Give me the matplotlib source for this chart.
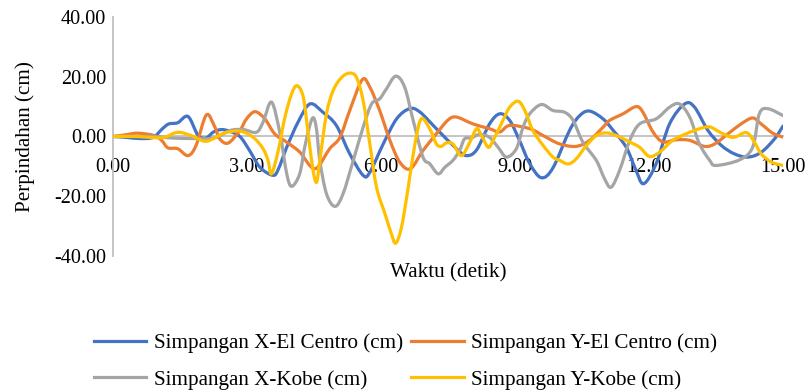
import matplotlib
matplotlib.use('Agg')
import numpy as np
import matplotlib.pyplot as plt
from matplotlib.path import Path
from matplotlib.patches import PathPatch
from matplotlib.ticker import FormatStrFormatter

# Simpangan X - El Centro
t_xec = [0, 0.3, 0.6, 0.9, 1.1, 1.25, 1.45, 1.68, 1.9, 2.08, 2.25, 2.42, 2.6, 2.84,
         3.05, 3.29, 3.58, 3.7, 3.89, 4.15, 4.41, 4.7, 5.0, 5.3, 5.6, 5.75, 6.05,
         6.35, 6.64, 6.87, 7.24, 7.69, 7.91, 8.14, 8.43, 8.66, 8.88, 9.1, 9.33,
         9.59, 9.85, 10.22, 10.45, 10.67, 10.97, 11.2, 11.49, 11.7, 11.88, 12.16,
         12.46, 12.8, 13.02, 13.32, 13.62, 13.91, 14.21, 14.51, 14.81, 15.0]
v_xec = [0, -0.3, -0.7, -0.3, 2.5, 4.2, 4.6, 6.7, 0.5, -0.5, 1.5, 2.3, 1.8, 0,
         -4.5, -10.3, -13, -11, -3.6, 5, 10.9, 8.1, 3.7, -5.8, -13, -12, -2.5,
         5.9, 9.3, 8.2, 2.6, -4.1, -6.4, -4.5, 4.2, 7.6, 5.4, -1.3, -9.1,
         -13.8, -10.5, 2, 7, 8.5, 5.9, 2, -3.6, -11, -15.8, -9.1,
         4.2, 10.9, 9.8, 2, -3, -5.8, -6.9, -5.3, -0.8, 3.5]

# Simpangan Y - El Centro
t_yec = [0, 0.3, 0.56, 0.93, 1.1, 1.23, 1.45, 1.68, 1.86, 2.09, 2.27, 2.39, 2.58,
         2.84, 2.99, 3.18, 3.4, 3.62, 3.89, 4.18, 4.52, 4.85, 5.08, 5.3, 5.58,
         5.75, 5.97, 6.2, 6.42, 6.66, 6.94, 7.24, 7.5, 7.69, 8.06, 8.43, 8.66,
         8.88, 9.33, 9.63, 10.0, 10.37, 10.67, 10.97, 11.12, 11.42, 11.71, 11.86,
         12.09, 12.31, 12.61, 12.91, 13.24, 13.47, 13.77, 14.06, 14.32, 14.51,
         14.77, 15.0]
v_yec = [0, 0.6, 1.1, 0.3, -1.5, -3.8, -4.1, -6.4, -3, 7.2, 3.5, -0.8, -2.2,
         2, 5.9, 8.3, 5.9, 0.9, -1.9, -5.2, -10.8, -4.1, -0.3, 8.7, 19,
         16.5, 8.7, -1.3, -8.6, -10.8, -4.7, 0.9, 5.5, 6.5, 4.2, 2.6, 1.5,
         3.7, 2.6, 0.3, -2.5, -3.3, -1.3, 3.1, 5.4, 7.6, 10, 8.2,
         1.5, -1.8, -1.1, -1.3, -3.3, -2.5, 0.9, 4.2, 6.2, 4.2,
         1.1, -0.2]

# Simpangan X - Kobe
t_xk = [0, 0.9, 1.3, 1.8, 2.27, 2.62, 2.92, 3.21, 3.36, 3.55, 3.74, 3.89, 4.0,
        4.18, 4.3, 4.46, 4.55, 4.63, 4.78, 4.97, 5.15, 5.38, 5.6, 5.79, 5.97,
        6.12, 6.33, 6.53, 6.72, 6.94, 7.09, 7.28, 7.43, 7.61, 7.76, 7.87, 8.02,
        8.21, 8.43, 8.62, 8.81, 9.03, 9.18, 9.33, 9.59, 9.85, 10.11, 10.3,
        10.52, 10.82, 11.0, 11.15, 11.34, 11.57, 11.79, 12.16, 12.46, 12.68,
        12.91, 13.13, 13.36, 13.5, 14.03, 14.32, 14.47, 14.66, 15.0]
v_xk = [0, 0, -0.5, -0.7, -0.5, 2, 2.3, 1.4, 4.8, 11.5, 0.9, -12.5, -16.7,
        -12.5, -3, 6, 3.1, -8, -19.2, -23.4, -19.2, -8, 3.1, 10.9, 12.6,
        15.9, 20.2, 16.5, 5.4, -6.9, -9.1, -12.5, -10.3, -8, -4.7, -0.8, -0.5,
        0.7, -0.3, -3.6, -6.9, -4.1, 3.1, 7.6, 10.7, 8.7, 8.1, 5.4,
        -1.9, -8, -14, -17, -11.4, -1.3, 4.2, 5.9, 9.8, 10.9,
        6.5, -2.5, -8, -9.7, -7.8, -3.6, 7.6, 9.3, 7]

# Simpangan Y - Kobe
t_yk = [0, 0.5, 0.93, 1.15, 1.45, 1.75, 2.09, 2.47, 2.84, 3.14, 3.36, 3.47, 3.55,
        3.7, 3.85, 4.0, 4.12, 4.26, 4.37, 4.48, 4.56, 4.63, 4.78, 4.93, 5.12,
        5.3, 5.45, 5.6, 5.75, 5.9, 6.09, 6.23, 6.33, 6.46, 6.61, 6.76, 6.9,
        7.09, 7.24, 7.35, 7.46, 7.61, 7.8, 7.99, 8.14, 8.25, 8.4, 8.51, 8.73,
        8.88, 9.07, 9.22, 9.4, 9.63, 9.85, 10.0, 10.19, 10.37, 10.6, 10.82,
        11.04, 11.27, 11.57, 11.79, 12.01, 12.24, 12.53, 12.83, 13.13, 13.36,
        13.58, 13.88, 14.18, 14.36, 14.51, 14.74, 15.0]
v_yk = [0, 0, -0.4, -0.3, 1.4, 0.3, -1.6, 1.0, 1.8, -0.3, -4.1, -8, -12.5,
        -4.7, 6.5, 14.3, 17, 13.2, 0.9, -11.4, -15.3, -8, 7.6, 15.4, 19.8,
        21.2, 19.8, 12, -2.5, -17, -25.9, -32.5, -35.7, -30.3, -17, -2.5, 5.9,
        2.6, -2.5, -3.3, -2.2, -2.5, -6.4, -1.9, 2.6, 0.3, -3.6, -1.3, 5.4,
        9.8, 11.8, 8.7, 2, -3, -6.9, -8, -9.2, -7.5, -3, 0.3,
        1.2, 0.3, -1.9, -3.6, -6.7, -5.2, -1.3, 0.9, 2.6, 3.2,
        1.5, -0.3, 1.3, -1.9, -5.8, -8.6, -9.7]

labels = ['Simpangan X-El Centro (cm)', 'Simpangan Y-El Centro (cm)',
          'Simpangan X-Kobe (cm)', 'Simpangan Y-Kobe (cm)']
colors = ['#4472C4', '#ED7D31', '#A5A5A5', '#FFC000']
x_ticks = [0, 3, 6, 9, 12, 15]
y_ticks = [-40, -20, 0, 20, 40]


def smooth_path(t, v):
    # Excel-like smoothed line: Catmull-Rom segments drawn as cubic Beziers
    p = np.column_stack([t, v]).astype(float)
    verts = [p[0]]
    codes = [Path.MOVETO]
    n = len(p)
    for i in range(n - 1):
        p0 = p[i - 1] if i > 0 else p[i]
        p3 = p[i + 2] if i + 2 < n else p[i + 1]
        c1 = p[i] + (p[i + 1] - p0) / 6
        c2 = p[i + 1] - (p3 - p[i]) / 6
        verts += [c1, c2, p[i + 1]]
        codes += [Path.CURVE4] * 3
    return Path(verts, codes)


plt.rcParams['font.family'] = ['Liberation Serif', 'DejaVu Serif']
plt.rcParams['font.size'] = 15.2

fig = plt.figure(figsize=(8.11, 3.91), dpi=100)
ax = fig.add_axes([0.1393, 0.3453, 0.8262, 0.6113])

series = [(t_xec, v_xec), (t_yec, v_yec), (t_xk, v_xk), (t_yk, v_yk)]
handles = []
for (t, v), lab, c in zip(series, labels, colors):
    ax.add_patch(PathPatch(smooth_path(t, v), facecolor='none', edgecolor=c,
                           lw=2.3, zorder=3, joinstyle='round', capstyle='round'))
    h, = ax.plot([], [], color=c, lw=2.3, label=lab)
    handles.append(h)

ax.set_xlim(0, 15)
ax.set_ylim(-40, 40)
ax.set_xticks(x_ticks)
ax.set_yticks(y_ticks)
ax.xaxis.set_major_formatter(FormatStrFormatter('%.2f'))
ax.yaxis.set_major_formatter(FormatStrFormatter('%.2f'))
ax.tick_params(axis='x', length=0, pad=15.5, labelsize=14.6)
ax.tick_params(axis='y', length=0, pad=5, labelsize=14.6)

ax.spines['top'].set_visible(False)
ax.spines['right'].set_visible(False)
ax.spines['bottom'].set_position(('data', 0))
for s in ['left', 'bottom']:
    ax.spines[s].set_color('#BFBFBF')
    ax.spines[s].set_linewidth(1.3)

ax.set_ylabel('Perpindahan (cm)', labelpad=14)
ax.text(7.5, -45.5, 'Waktu (detik)', ha='center', va='center')

# Excel fills the legend row by row
order = [0, 2, 1, 3]
fig.legend([handles[i] for i in order], [labels[i] for i in order],
           loc='upper center', bbox_to_anchor=(0.5, 0.169), ncol=2,
           frameon=False, handlelength=2.5, handletextpad=0.35,
           columnspacing=0.4, labelspacing=0.8, borderaxespad=0)

fig.savefig('out.png', dpi=100)
